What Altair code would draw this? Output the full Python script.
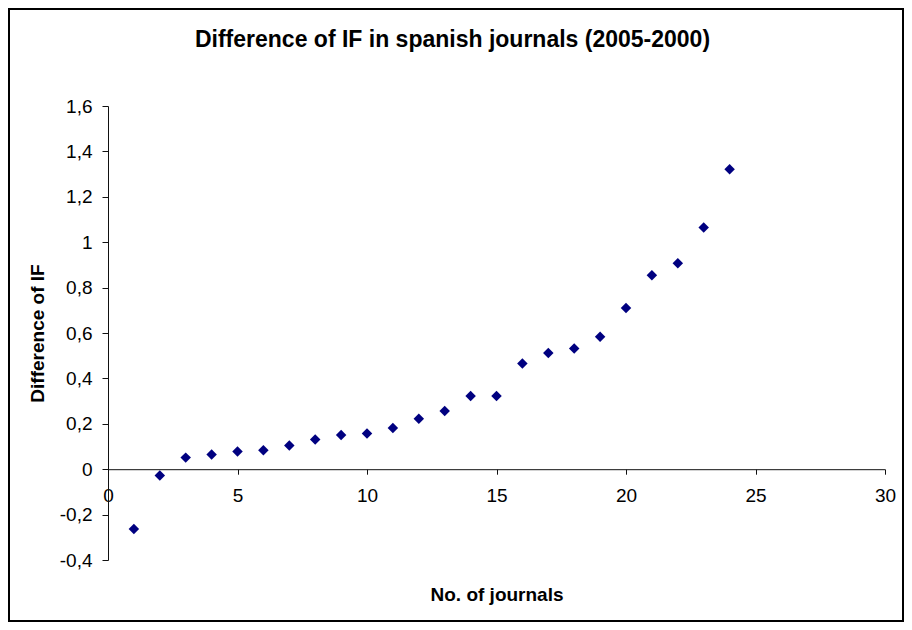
import altair as alt
import pandas as pd

# Data
journal_no = [1, 2, 3, 4, 5, 6, 7, 8, 9, 10, 11, 12,
              13, 14, 15, 16, 17, 18, 19, 20, 21, 22, 23, 24]
if_diff = [-0.263, -0.028, 0.051, 0.065, 0.078, 0.084, 0.104, 0.131,
           0.151, 0.157, 0.182, 0.222, 0.256, 0.322, 0.322, 0.466,
           0.512, 0.532, 0.584, 0.710, 0.854, 0.907, 1.065, 1.321]
x_ticks = [0, 5, 10, 15, 20, 25, 30]
y_ticks = [-0.4, -0.2, 0, 0.2, 0.4, 0.6, 0.8, 1, 1.2, 1.4, 1.6]

df = pd.DataFrame({"journal": journal_no, "diff": if_diff})

W, H = 777, 454
PAD = {"left": 100, "top": 98, "right": 19, "bottom": 62}
X_DOM = [0, 30]
Y_DOM = [-0.4, 1.6]
zero_offset = -H * (0 - Y_DOM[0]) / (Y_DOM[1] - Y_DOM[0])
FONT = "Liberation Sans"

points = alt.Chart(df).mark_point(
    shape="diamond", filled=True, size=110, color="#000080", opacity=1
).encode(
    x=alt.X(
        "journal:Q",
        scale=alt.Scale(domain=X_DOM, nice=False, zero=False),
        axis=alt.Axis(
            values=x_ticks, title="No. of journals", offset=zero_offset,
            grid=False, tickSize=5, labelPadding=12, labelFlush=False,
            labelOverlap=False, titleY=131, titleBaseline="alphabetic",
        ),
    ),
    y=alt.Y(
        "diff:Q",
        scale=alt.Scale(domain=Y_DOM, nice=False, zero=False),
        axis=alt.Axis(
            values=y_ticks, title="Difference of IF",
            labelExpr="replace(datum.value + '', '.', ',')",
            grid=False, tickSize=6, labelPadding=10, labelFlush=False,
            labelOverlap=False, titleX=-65, titleY=H / 2,
            titleBaseline="alphabetic", titleAngle=270,
        ),
    ),
)

# outer chart border (decoration, in pixels relative to the plot area)
frame = alt.Chart(pd.DataFrame({"f": [0]})).mark_rect(
    fillOpacity=0, stroke="black", strokeWidth=2
).encode(
    x=alt.value(-PAD["left"] + 1), x2=alt.value(W + PAD["right"] - 1),
    y=alt.value(-PAD["top"] + 1), y2=alt.value(H + PAD["bottom"] - 1),
)

chart = alt.layer(points, frame).properties(
    width=W, height=H,
    title=alt.Title(
        "Difference of IF in spanish journals (2005-2000)",
        font=FONT, fontSize=23, fontWeight="bold", color="black",
        anchor="middle", frame="group", dx=-44, offset=-62,
        baseline="alphabetic",
    ),
    autosize=alt.AutoSizeParams(type="none"),
    padding=PAD,
).configure_view(
    stroke="transparent"
).configure_axis(
    labelFont=FONT, labelFontSize=19, labelColor="black",
    titleFont=FONT, titleFontSize=19, titleFontWeight="bold",
    titleColor="black", domainColor="#111", tickColor="#111",
    domainWidth=1, tickWidth=1,
)

chart.save("out.html", embed_options={"renderer": "svg", "actions": False})
